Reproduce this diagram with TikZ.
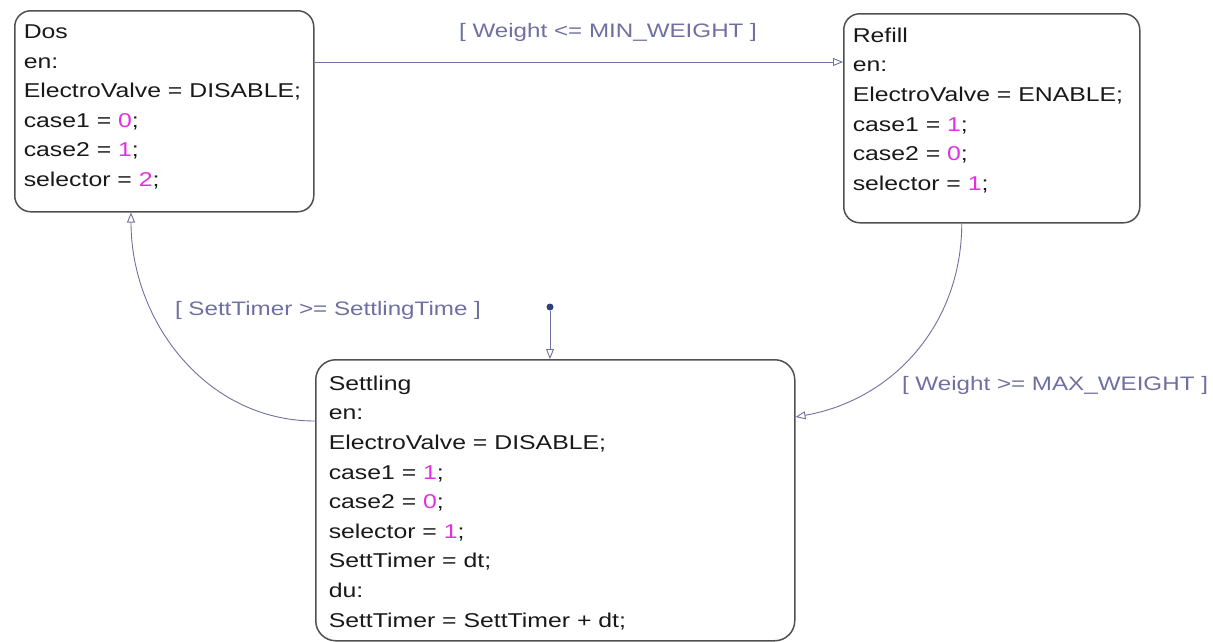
\documentclass[tikz,border=0pt]{standalone}
\usepackage{fontspec}
\setmainfont{Liberation Sans}[FakeStretch=1.24]
\usetikzlibrary{arrows.meta}
\definecolor{boxgray}{HTML}{505050}
\definecolor{transcol}{HTML}{7070A0}
\definecolor{valmag}{HTML}{E030E0}
\definecolor{dotblue}{HTML}{2E3F7E}
\newcommand{\val}[1]{\textcolor{valmag}{#1}}
% fixed size body, text stays at the top
\newcommand{\statebody}[3]{\parbox[t][#1][t]{#2}{#3}}

\begin{document}
\begin{tikzpicture}[x=1pt,y=1pt,
  state/.style={draw=boxgray,line width=1.5pt,rounded corners=16pt,anchor=north west,
    inner xsep=9pt,inner ysep=14pt,font=\fontsize{20}{29.6}\selectfont,text=black!90},
  trans/.style={draw=transcol,line width=0.9pt,-{Triangle[open,length=10pt,width=8pt,fill=white]}},
  guard/.style={text=transcol,font=\fontsize{19.5}{24}\selectfont},
  initdot/.style={circle,fill=dotblue,inner sep=0pt,minimum size=7pt}]
    \useasboundingbox (0,0) rectangle (1213,-641);

    % states
    \node[state] (dos) at (14,-10) {\statebody{173pt}{281pt}{Dos\\en:\\ElectroValve = DISABLE;\\case1 = \val{0};\\case2 = \val{1};\\selector = \val{2};}};
    \node[state] (refill) at (843,-13) {\statebody{181pt}{278pt}{Refill\\en:\\ElectroValve = ENABLE;\\case1 = \val{1};\\case2 = \val{0};\\selector = \val{1};}};
    \node[state,rounded corners=20pt,inner xsep=13pt,inner ysep=16pt] (settling) at (315,-359) {\statebody{249pt}{453pt}{Settling\\en:\\ElectroValve = DISABLE;\\case1 = \val{1};\\case2 = \val{0};\\selector = \val{1};\\SettTimer = dt;\\du:\\SettTimer = SettTimer + dt;}};

    % default transition
    \node[initdot] (init) at (550,-307) {};
    \draw[trans] (init) -- (init |- settling.north);

    % transitions
    \draw[trans] ([yshift=-52pt]dos.north east) -- ([yshift=-49pt]refill.north west);
    \draw[trans] ([xshift=-30pt]refill.south) to[out=-90,in=10] ([yshift=-58pt]settling.north east);
    \draw[trans] ([yshift=-62pt]settling.north west) to[out=180,in=-90] ([xshift=117pt]dos.south west);

    % guards
    \node[guard] (gmin) at (608,-32) {[ Weight <= MIN\_WEIGHT ]};
    \node[guard] (gmax) at (1055,-385) {[ Weight >= MAX\_WEIGHT ]};
    \node[guard] (gset) at (328,-310) {[ SettTimer >= SettlingTime ]};
\end{tikzpicture}
\end{document}
